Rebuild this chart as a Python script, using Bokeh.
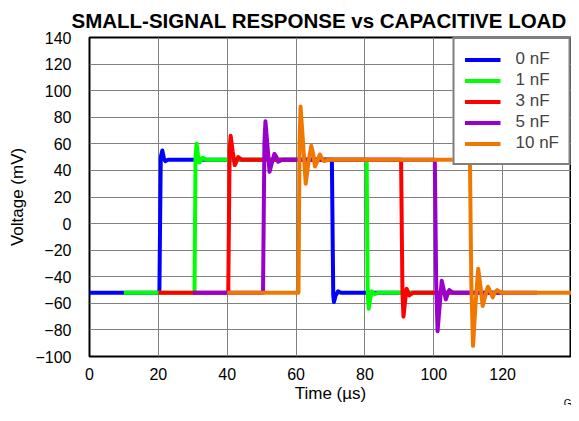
from bokeh.plotting import figure
from bokeh.models import Range1d, FixedTicker, Title
from bokeh.embed import file_html
from bokeh.resources import INLINE

# ---- data (time in us, voltage in mV) ----
blue_t = [0, 20.3, 20.7, 21.15, 21.6, 22.0, 22.8, 70.4, 70.8, 71.0, 71.5, 72.2, 73.0, 100]
blue_v = [-52, -52, 50, 55, 49, 47, 48, 48, -54, -59, -54, -51, -52, -52]

green_t = [10, 30.5, 30.8, 31.1, 31.5, 31.9, 32.9, 33.8, 80.5, 80.8, 81.1, 81.5, 82.0, 82.8, 84, 110]
green_v = [-52, -52, 50, 60, 52, 46, 49.5, 48, 48, -52, -64, -57, -51, -53, -52, -52]

red_t = [20, 40.3, 40.7, 41.0, 41.6, 42.2, 43.2, 44.3, 90.5, 90.9, 91.2, 91.6, 92.1, 92.9, 94, 120]
red_v = [-52, -52, 55, 66, 54, 44, 50, 48, 48, -52, -70, -60, -49, -54, -52, -52]

purple_t = [30, 50.4, 50.8, 51.1, 51.7, 52.3, 53.0, 53.7, 54.3, 54.8, 56.0,
            100.3, 100.7, 101.1, 101.7, 102.3, 102.9, 103.5, 104.0, 104.5, 105.5, 130]
purple_v = [-52, -52, 60, 77, 58, 39, 46, 52.5, 50, 46.5, 48,
            48, -45, -81, -62, -43, -50, -57, -53, -50, -52, -52]

orange_t = [40, 60.7, 61.0, 61.3, 62.0, 62.8, 63.6, 64.4, 65.0, 65.5, 66.2, 66.9, 67.5, 68.1, 69.5,
            110.5, 110.9, 111.4, 112.1, 112.9, 113.6, 114.2, 114.9, 115.7, 116.4, 117.1, 117.7, 118.4, 119.5, 140]
orange_v = [-52, -52, 60, 88, 62, 30, 46, 58.5, 52, 43, 47, 52, 49, 47, 48,
            48, -45, -92, -62, -34, -48, -62, -55, -47.5, -51, -55.5, -52, -50, -52, -52]

series_names = ["0 nF", "1 nF", "3 nF", "5 nF", "10 nF"]
series_colors = ["#0000ff", "#00ff00", "#ff0000", "#9900cc", "#f07800"]
series_t = [blue_t, green_t, red_t, purple_t, orange_t]
series_v = [blue_v, green_v, red_v, purple_v, orange_v]

x_ticks = [0, 20, 40, 60, 80, 100, 120, 140]
y_ticks = [-100, -80, -60, -40, -20, 0, 20, 40, 60, 80, 100, 120, 140]

title_text = "SMALL-SIGNAL RESPONSE vs CAPACITIVE LOAD"
x_label = "Time (µs)"
y_label = "Voltage (mV)"
corner_code = "G"

FONT = "Liberation Sans"

p = figure(width=571, height=405, output_backend="svg", toolbar_location=None,
           x_range=Range1d(0, 140), y_range=Range1d(-100, 140),
           min_border_left=89, min_border_right=0, min_border_top=36, min_border_bottom=49,
           title=title_text)

p.title.text_font = FONT
p.title.text_font_size = "20.5px"
p.title.text_font_style = "bold"
p.title.text_color = "black"
p.title.align = "left"
p.title.offset = -18
p.title.standoff = 12

for name, col, t, v in zip(series_names, series_colors, series_t, series_v):
    p.line(t, v, color=col, line_width=4, line_join="round", legend_label=name)

p.xaxis.ticker = FixedTicker(ticks=x_ticks)
p.yaxis.ticker = FixedTicker(ticks=y_ticks)
p.xaxis.major_label_overrides = {140: ""}
p.yaxis.major_label_overrides = {v: ("\u2212" + str(-v)) for v in y_ticks if v < 0}

for ax in (p.xaxis, p.yaxis):
    ax.axis_line_color = None
    ax.major_tick_line_color = None
    ax.minor_tick_line_color = None
    ax.major_label_text_font = FONT
    ax.major_label_text_font_size = "16px"
    ax.major_label_text_color = "black"
    ax.axis_label_text_font = FONT
    ax.axis_label_text_font_size = "17px"
    ax.axis_label_text_font_style = "normal"
    ax.axis_label_text_color = "black"

p.xaxis.axis_label = x_label
p.yaxis.axis_label = y_label
p.xaxis.major_label_standoff = 5
p.xaxis.axis_label_standoff = 1
p.yaxis.major_label_standoff = 12
p.yaxis.axis_label_standoff = 5

p.xgrid.grid_line_color = "#808080"
p.ygrid.grid_line_color = "#808080"
p.xgrid.grid_line_width = 1
p.ygrid.grid_line_width = 1

p.outline_line_color = "black"
p.outline_line_width = 2
p.outline_line_alpha = 1

lg = p.legend[0]
lg.location = "top_right"
lg.margin = 0
lg.padding = 10
lg.spacing = 1
lg.glyph_width = 36
lg.glyph_height = 19
lg.label_height = 19
lg.label_standoff = 15
lg.label_text_font = FONT
lg.label_text_font_size = "17px"
lg.border_line_color = "black"
lg.border_line_width = 2
lg.background_fill_alpha = 1

p.add_layout(Title(text=corner_code, align="right", vertical_align="top", standoff=-15,
                   offset=0, text_font=FONT, text_font_size="10px", text_font_style="normal",
                   text_color="black"), "below")

open("out.html", "w").write(file_html(p, INLINE))
